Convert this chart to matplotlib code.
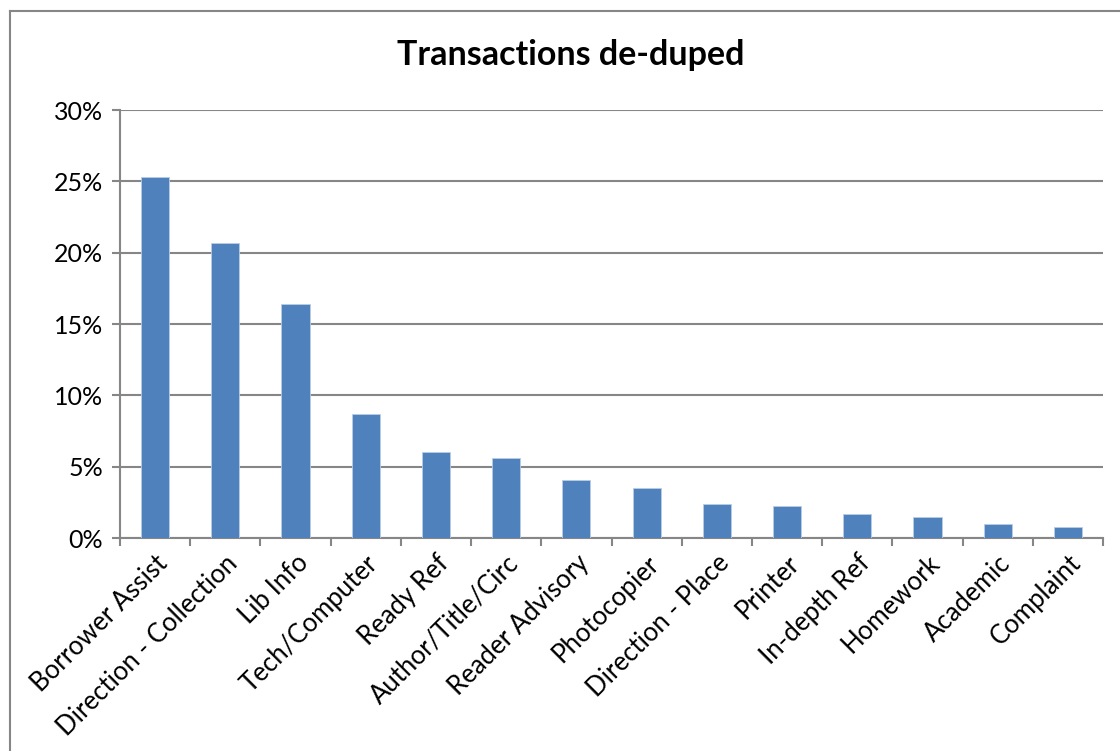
import numpy as np
import matplotlib.pyplot as plt
from matplotlib.lines import Line2D
from matplotlib.ticker import PercentFormatter
import matplotlib.transforms as mtransforms

plt.rcParams['font.family'] = ['Lato', 'DejaVu Sans']

categories = ['Borrower Assist', 'Direction - Collection', 'Lib Info', 'Tech/Computer',
              'Ready Ref', 'Author/Title/Circ', 'Reader Advisory', 'Photocopier',
              'Direction - Place', 'Printer', 'In-depth Ref', 'Homework', 'Academic',
              'Complaint']
share = [25.3, 20.7, 16.4, 8.7, 6.0, 5.6, 4.1, 3.5, 2.35, 2.25, 1.7, 1.5, 1.0, 0.8]

fig = plt.figure(figsize=(11.2, 7.51), dpi=100)
ax = fig.add_axes([120/1120, 1-538/751, (1103-120)/1120, (538-110)/751])

gray = '#868686'
x = np.arange(len(categories))
ax.bar(x, share, width=0.4, color='#4F81BD', edgecolor='#B9CDE5', linewidth=0.6, zorder=3)

ax.set_xlim(-0.5, len(categories) - 0.5)
ax.set_ylim(0, 30)
ax.set_yticks(np.arange(0, 31, 5))
ax.yaxis.set_major_formatter(PercentFormatter(decimals=0))
ax.yaxis.grid(True, color=gray, linewidth=1.5, zorder=0)

ax.set_xticks(np.arange(-0.5, len(categories), 1))
ax.set_xticklabels([])
ax.set_xticks(x, minor=True)
ax.set_xticklabels(categories, minor=True, rotation=45, ha='right', va='top',
                   rotation_mode='anchor', fontsize=18.5)
offset = mtransforms.ScaledTranslation(0.16, 0, fig.dpi_scale_trans)
for lab in ax.get_xticklabels(minor=True):
    lab.set_transform(lab.get_transform() + offset)
ax.tick_params(axis='x', which='minor', length=0, pad=9)
ax.tick_params(axis='x', which='major', length=6, color=gray, width=1.5)
ax.tick_params(axis='y', length=6, color=gray, width=1.5, labelsize=18, pad=6)

for side in ['top', 'right']:
    ax.spines[side].set_visible(False)
for side in ['left', 'bottom']:
    ax.spines[side].set_color(gray)
    ax.spines[side].set_linewidth(1.5)

fig.text(571/1120, 1 - 55/751, 'Transactions de-duped', fontsize=24.5, fontweight='bold',
         ha='center', va='center')

# chart border (cropped on right/bottom)
fig.add_artist(Line2D([10/1120, 10/1120], [0, 1 - 11/751], color=gray, linewidth=1.5))
fig.add_artist(Line2D([10/1120, 1], [1 - 11/751, 1 - 11/751], color=gray, linewidth=1.5))

fig.savefig('out.png', dpi=100)
